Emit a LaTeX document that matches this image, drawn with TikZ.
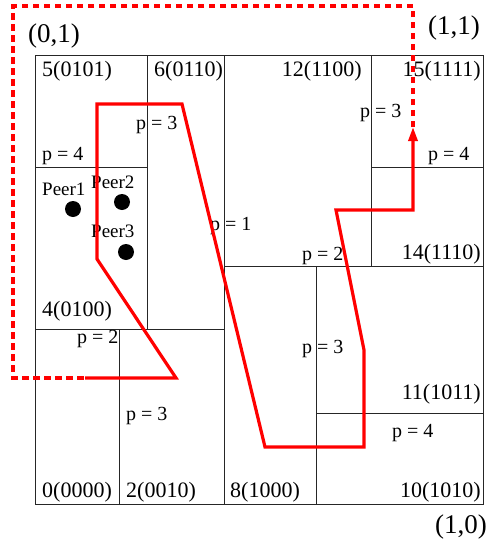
\documentclass[tikz,border=0pt]{standalone}
\usepackage{fontspec}
\setmainfont{Liberation Serif}
\usetikzlibrary{arrows.meta}
\tikzset{
  grid/.style={draw=black!85, line width=0.9pt},
  route/.style={draw=red, line width=3.2pt, line join=miter},
  wrap/.style={draw=red, line width=3.2pt, dash pattern=on 6.5pt off 4.5pt},
  cell/.style={inner sep=0pt, font=\fontsize{22}{22}\selectfont},
  cellw/.style={cell, anchor=base west},
  celle/.style={cell, anchor=base east},
  plab/.style={inner sep=0pt, anchor=base west, font=\fontsize{20}{20}\selectfont},
  peer/.style={inner sep=0pt, anchor=base west, font=\fontsize{19}{19}\selectfont},
  corner/.style={inner sep=0pt, anchor=base west, font=\fontsize{27}{27}\selectfont},
  dot/.style={circle, fill=black, minimum size=16pt, inner sep=0pt}
}
\begin{document}
\begin{tikzpicture}[x=1pt, y=-1pt]
\useasboundingbox (0,0) rectangle (488,541);
% grid
\draw[grid] (35,55) rectangle (483,504);
\draw[grid] (147,55) -- (147,329);
\draw[grid] (224,55) -- (224,504);
\draw[grid] (371,55) -- (371,266);
\draw[grid] (119,329) -- (119,504);
\draw[grid] (316,266) -- (316,504);
\draw[grid] (35,167) -- (147,167);
\draw[grid] (35,329) -- (224,329);
\draw[grid] (224,266) -- (483,266);
\draw[grid] (371,167) -- (483,167);
\draw[grid] (316,413) -- (483,413);
% corner labels
\node[corner] (c01) at (28,42) {(0,1)};
\node[corner] (c11) at (428,34) {(1,1)};
\node[corner] (c10) at (435,533) {(1,0)};
% cell labels
\node[cellw] (z5) at (42,76) {5(0101)};
\node[cellw] (z6) at (154,76) {6(0110)};
\node[celle] (z12) at (362,76) {12(1100)};
\node[celle] (z15) at (481,76) {15(1111)};
\node[cellw] (z4) at (42,316) {4(0100)};
\node[celle] (z14) at (481,259) {14(1110)};
\node[celle] (z11) at (481,399) {11(1011)};
\node[cellw] (z0) at (42,497) {0(0000)};
\node[cellw] (z2) at (126,497) {2(0010)};
\node[cellw] (z8) at (230,497) {8(1000)};
\node[celle] (z10) at (481,497) {10(1010)};
% p labels
\node[plab] (p6) at (136,129) {p = 3};
\node[plab] (p5) at (42,160) {p = 4};
\node[plab] (p12) at (360,117) {p = 3};
\node[plab] (p15) at (428,160) {p = 4};
\node[plab] (p1) at (210,230) {p = 1};
\node[plab] (p14) at (302,260) {p = 2};
\node[plab] (p0) at (77,343) {p = 2};
\node[plab] (p8) at (302,353) {p = 3};
\node[plab] (p2) at (126,420) {p = 3};
\node[plab] (p10) at (392,437) {p = 4};
% peers
\node[peer] (l1) at (42,195) {Peer1};
\node[peer] (l2) at (91,188) {Peer2};
\node[peer] (l3) at (91,237) {Peer3};
\node[dot] (d1) at (73,209) {};
\node[dot] (d2) at (122,202) {};
\node[dot] (d3) at (126,252) {};
% route
\coordinate (r0) at (85,378);
\coordinate (r1) at (176,378);
\coordinate (r2) at (97,259);
\coordinate (r3) at (97,104);
\coordinate (r4) at (182,104);
\coordinate (r5) at (265,447);
\coordinate (r6) at (364,447);
\coordinate (r7) at (364,350);
\coordinate (r8) at (336,210);
\coordinate (r9) at (413,210);
\coordinate (r10) at (413,127);
\coordinate (w1) at (413,6);
\coordinate (w2) at (13,6);
\coordinate (w3) at (13,378);
\draw[wrap] (r10) -- (w1) -- (w2) -- (w3) -- (r0);
\draw[route, -{Triangle[length=14pt, width=9pt]}] (r0) -- (r1) -- (r2) -- (r3) -- (r4) -- (r5) -- (r6) -- (r7) -- (r8) -- (r9) -- (r10);
\end{tikzpicture}
\end{document}
